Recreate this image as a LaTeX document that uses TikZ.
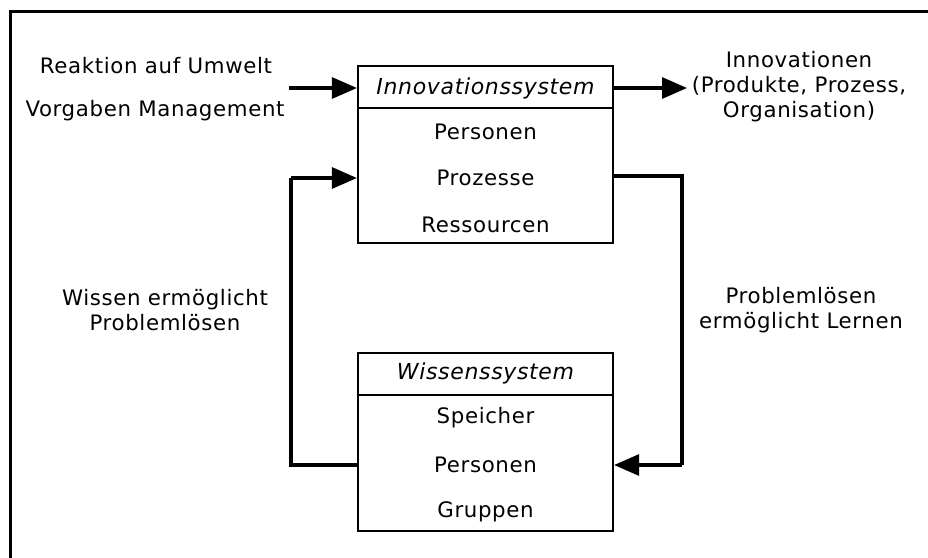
\documentclass[tikz,border=0pt]{standalone}
\usepackage{fontspec}
\setmainfont[LetterSpace=3]{DejaVu Sans}
\usetikzlibrary{arrows.meta}
\begin{document}
\begin{tikzpicture}[x=1pt,y=-1pt,
  txt/.style={inner sep=0pt,font=\fontsize{21.3}{25}\selectfont},
  hdr/.style={inner sep=0pt,font=\fontsize{22}{25}\selectfont\itshape},
  sysbox/.style={draw,line width=2.2pt,minimum width=255pt,inner sep=0pt},
  flow/.style={line width=3.2pt,-{Triangle[length=25pt,width=21pt]}},
  loop/.style={line width=3.2pt}]
\useasboundingbox (0,0) rectangle (928,557);
% outer frame (only top and left edges inside the page)
\draw[line width=3pt] (10,600) -- (10,11) -- (960,11);

% innovation system
\node[sysbox,minimum height=177pt] (inn) at (485.5,154.5) {};
\draw[line width=2.2pt] (358,108) -- (613,108);
\node[hdr] (innh) at (485.5,88) {Innovationssystem};
\node[txt] (per1) at (485.5,132) {Personen};
\node[txt] (pro) at (485.5,178) {Prozesse};
\node[txt] (res) at (485.5,225) {Ressourcen};

% knowledge system
\node[sysbox,minimum height=178pt] (wis) at (485.5,442) {};
\draw[line width=2.2pt] (358,395) -- (613,395);
\node[hdr] (wish) at (485.5,373) {Wissenssystem};
\node[txt] (spe) at (485.5,418) {Speicher};
\node[txt] (per2) at (485.5,465) {Personen};
\node[txt] (gru) at (485.5,512) {Gruppen};

% inputs and outputs
\node[txt] (rea) at (156,66) {Reaktion auf Umwelt};
\node[txt] (vor) at (155,111) {Vorgaben Management};
\node[txt,align=center] (out) at (799,87)
  {Innovationen\\(Produkte, Prozess,\\Organisation)};
\coordinate (inS) at (289,88);
\coordinate (outE) at (687,88);
\draw[flow] (inS) -- (inn.west |- inS);
\draw[flow] (inn.east |- outE) -- (outE);

% feedback loops
\coordinate (lTop) at (291,178);
\coordinate (lBot) at (291,465);
\coordinate (rTop) at (682,176);
\coordinate (rBot) at (682,465);
\draw[loop] (wis.west |- lBot) -- (lBot) -- (lTop);
\draw[flow] (lTop) -- (inn.west |- lTop);
\draw[loop] (inn.east |- rTop) -- (rTop) -- (rBot);
\draw[flow] (rBot) -- (wis.east |- rBot);

\node[txt,align=center] (wl) at (165,310)
  {Wissen ermöglicht\\Problemlösen};
\node[txt,align=center] (pl) at (801,310)
  {Problemlösen\\ermöglicht Lernen};
\end{tikzpicture}
\end{document}
